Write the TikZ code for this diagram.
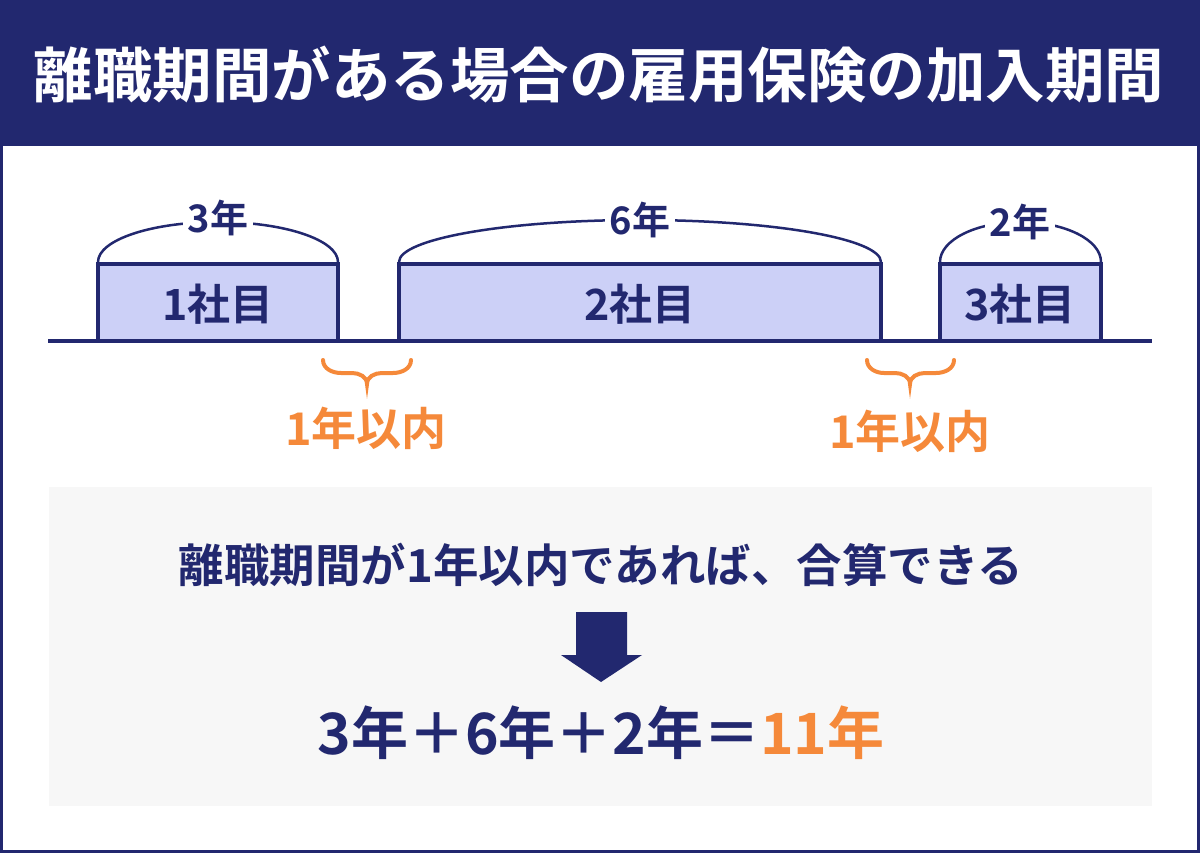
\documentclass[tikz,border=0pt]{standalone}
\usepackage{fontspec}
\setmainfont{Noto Sans CJK JP}[BoldFont={Noto Sans CJK JP Bold}]
\definecolor{navy}{HTML}{22286F}
\definecolor{lav}{HTML}{CCD0F7}
\definecolor{orng}{HTML}{F5893A}
\definecolor{lgray}{HTML}{F7F7F7}
\tikzset{
  period/.style={draw=navy, line width=4pt, fill=lav},
  arcline/.style={draw=navy, line width=2.5pt},
  yearlbl/.style={fill=white, inner sep=5pt, text=navy, font=\bfseries\fontsize{38}{38}\selectfont},
  boxlbl/.style={text=navy, font=\bfseries\fontsize{43}{43}\selectfont},
  bracestyle/.style={draw=orng, line width=4pt, line cap=round},
  gaplbl/.style={text=orng, font=\bfseries\fontsize{45}{45}\selectfont},
}
\begin{document}
\begin{tikzpicture}[x=1pt,y=-1pt]
\useasboundingbox (0,0) rectangle (1200,853);
% frame
\fill[navy] (0,0) rectangle (1200,853);
\fill[white] (3,146) rectangle (1197,850);
\node[text=white, font=\bfseries\fontsize{59.5}{59.5}\selectfont] (title) at (599,75) {離職期間がある場合の雇用保険の加入期間};
% arcs
\draw[arcline] (98,262) arc[start angle=180, end angle=360, x radius=120, y radius=40];
\draw[arcline] (399,262) arc[start angle=180, end angle=360, x radius=241, y radius=42];
\draw[arcline] (940,262) arc[start angle=180, end angle=360, x radius=80.5, y radius=40];
\node[yearlbl] (y1) at (218,218) {3年};
\node[yearlbl] (y2) at (640,220) {6年};
\node[yearlbl] (y3) at (1020,222) {2年};
% boxes
\draw[period] (98,341) rectangle (338,264);
\draw[period] (399,341) rectangle (881,264);
\draw[period] (940,341) rectangle (1101,264);
\node[boxlbl] (b1) at (218,304) {1社目};
\node[boxlbl] (b2) at (640,304) {2社目};
\node[boxlbl] (b3) at (1020,304) {3社目};
% timeline
\draw[navy, line width=4pt] (48,341) -- (1152,341);
% braces
\draw[bracestyle] (323,360) to[out=-90,in=180] (341,373) -- (352,373) to[out=0,in=90] (367,384) to[out=90,in=180] (382,373) -- (393,373) to[out=0,in=-90] (411,360);
\draw[bracestyle] (867,360) to[out=-90,in=180] (884,373) -- (895,373) to[out=0,in=90] (910,384) to[out=90,in=180] (925,373) -- (936,373) to[out=0,in=-90] (954,360);
\node[gaplbl] (g1) at (366,428) {1年以内};
\node[gaplbl] (g2) at (910,431) {1年以内};
% summary box
\fill[lgray] (49,487) rectangle (1152,806);
\node[text=navy, font=\bfseries\fontsize{45.5}{45.5}\selectfont] (msg) at (601,565) {離職期間が1年以内であれば、合算できる};
\fill[navy] (576,612) -- (627,612) -- (627,655) -- (642,655) -- (601,682) -- (561,655) -- (576,655) -- cycle;
\node[text=navy, font=\bfseries\fontsize{57}{57}\selectfont] (eq) at (601,733) {3年＋6年＋2年＝\textcolor{orng}{11年}};
\end{tikzpicture}
\end{document}
